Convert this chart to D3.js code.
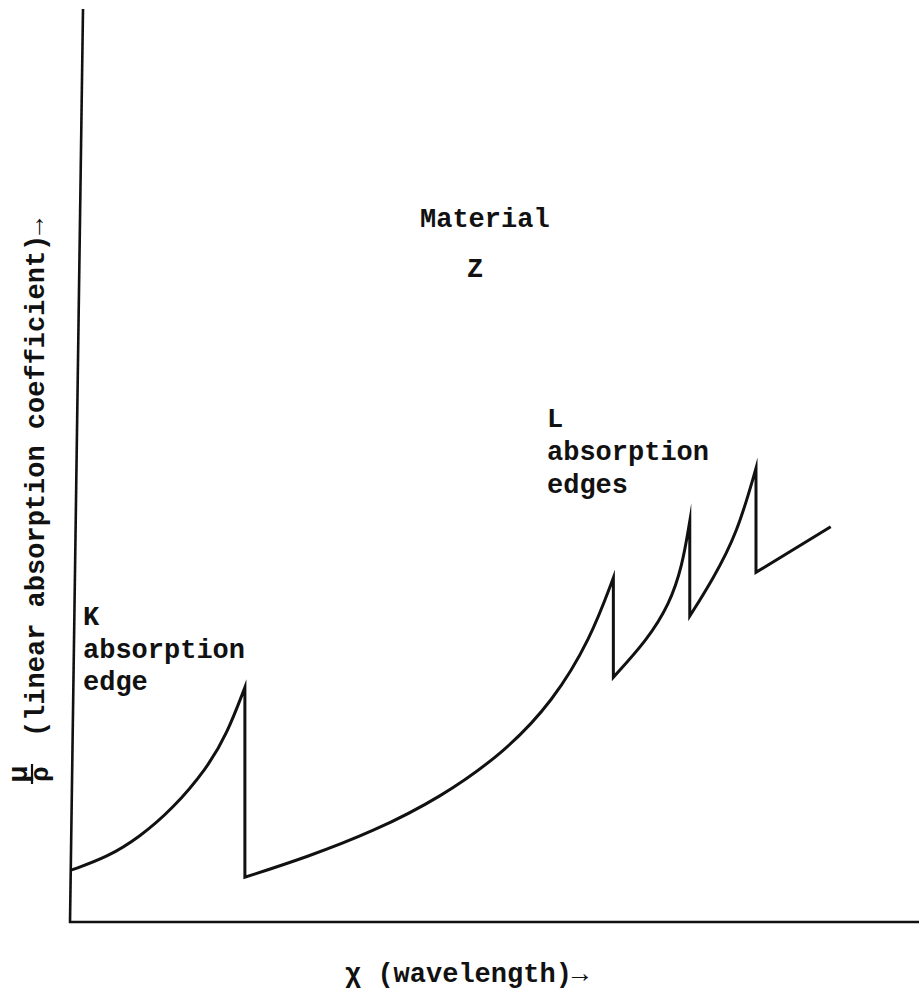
<!DOCTYPE html>
<html><head><meta charset="utf-8">
<script src="https://cdn.jsdelivr.net/npm/d3@7"></script>
<style>html,body{margin:0;padding:0;background:#fff}</style>
</head><body>
<svg id="chart" width="919" height="991"></svg>
<script>
// ---- data (arbitrary units: wavelength 0-100, mass absorption coefficient 0-100)
// rising branches between absorption edges, as [wavelength, mu/rho]
const branchBeforeK = [[0.2,5.7],[4.4,7.1],[8.2,9.3],[12.1,12.4],[16.1,16.8],[18.5,20.6],[20.6,25.7]];
const branchKtoL1   = [[20.6,4.9],[27.9,7.1],[35.7,9.9],[43.6,13.6],[51.2,18.6],[56.9,24.2],[61.3,31.0],[64.0,37.7]];
const branchL1toL2  = [[64.0,26.8],[68.0,30.9],[70.6,34.8],[72.1,38.9],[73.0,43.9]];
const branchL2toL3  = [[73.0,33.5],[75.7,37.5],[78.6,42.6],[80.8,49.7]];
const branchAfterL3 = [[80.8,38.3],[89.6,43.3]];
const branches = [branchBeforeK, branchKtoL1, branchL1toL2, branchL2toL3, branchAfterL3];

const titleLines = ["Material", "Z"];
const kLabelLines = ["K", "absorption", "edge"];
const lLabelLines = ["L", "absorption", "edges"];
const xLabel = "\u03c7 (wavelength)\u2192";
const yLabelSymbolTop = "\u03bc";
const yLabelSymbolBottom = "\u03c1";
const yLabel = "(linear absorption coefficient)\u2192";

// ---- layout
const svg = d3.select("#chart");
const x = d3.scaleLinear().domain([0, 100]).range([70, 919]);
const y = d3.scaleLinear().domain([0, 100]).range([922, 9]);
const ink = "#111";
const font = "'Liberation Mono', 'Courier New', monospace";

// axes (hand-drawn look: y axis leans slightly)
svg.append("line")
  .attr("x1", x(0) - 1).attr("y1", y(0))
  .attr("x2", x(100)).attr("y2", y(0))
  .attr("stroke", ink).attr("stroke-width", 2.6);
svg.append("line")
  .attr("x1", x(0)).attr("y1", y(0) + 1)
  .attr("x2", x(0) + 13).attr("y2", y(100))
  .attr("stroke", ink).attr("stroke-width", 2.6);

// curve
const line = d3.line().x(d => x(d[0])).y(d => y(d[1])).curve(d3.curveBasis);
const pathD = branches.map(b => line(b)).map((s, i) => i ? s.replace(/^M/, "L") : s).join("");
svg.append("path")
  .attr("d", pathD)
  .attr("fill", "none")
  .attr("stroke", ink)
  .attr("stroke-width", 3)
  .attr("stroke-linejoin", "miter")
  .attr("stroke-miterlimit", 20);

// text helper
function label(lines, x0, y0, dy, extra) {
  const t = svg.append("text")
    .attr("font-family", font).attr("font-weight", "bold")
    .attr("font-size", 27).attr("fill", ink);
  lines.forEach((s, i) => {
    t.append("tspan").attr("x", x0 + (extra && extra[i] || 0)).attr("y", y0 + i * dy).text(s);
  });
  return t;
}

label(titleLines, 420, 227, 50, [0, 47]);
label(kLabelLines, 83, 625, 32.5);
label(lLabelLines, 547, 427, 33);

// x axis label
svg.append("text")
  .attr("x", 345).attr("y", 982)
  .attr("font-family", font).attr("font-weight", "bold")
  .attr("font-size", 27).attr("fill", ink)
  .text(xLabel);

// y axis label (rotated)
const gy = svg.append("g").attr("transform", "translate(44,737) rotate(-90)");
gy.append("text")
  .attr("x", 0).attr("y", 0)
  .attr("font-family", font).attr("font-weight", "bold")
  .attr("font-size", 27).attr("fill", ink)
  .text(yLabel);
const gf = svg.append("g").attr("transform", "translate(0,774) rotate(-90)");
gf.append("text").attr("x", 0).attr("y", 27).attr("text-anchor", "middle")
  .attr("font-family", font).attr("font-weight", "bold").attr("font-size", 28).attr("fill", ink)
  .text(yLabelSymbolTop);
gf.append("line").attr("x1", -10).attr("x2", 10).attr("y1", 32).attr("y2", 32)
  .attr("stroke", ink).attr("stroke-width", 2.2);
gf.append("text").attr("x", 0).attr("y", 48).attr("text-anchor", "middle")
  .attr("font-family", font).attr("font-weight", "bold").attr("font-size", 26).attr("fill", ink)
  .text(yLabelSymbolBottom);
</script>
</body></html>
